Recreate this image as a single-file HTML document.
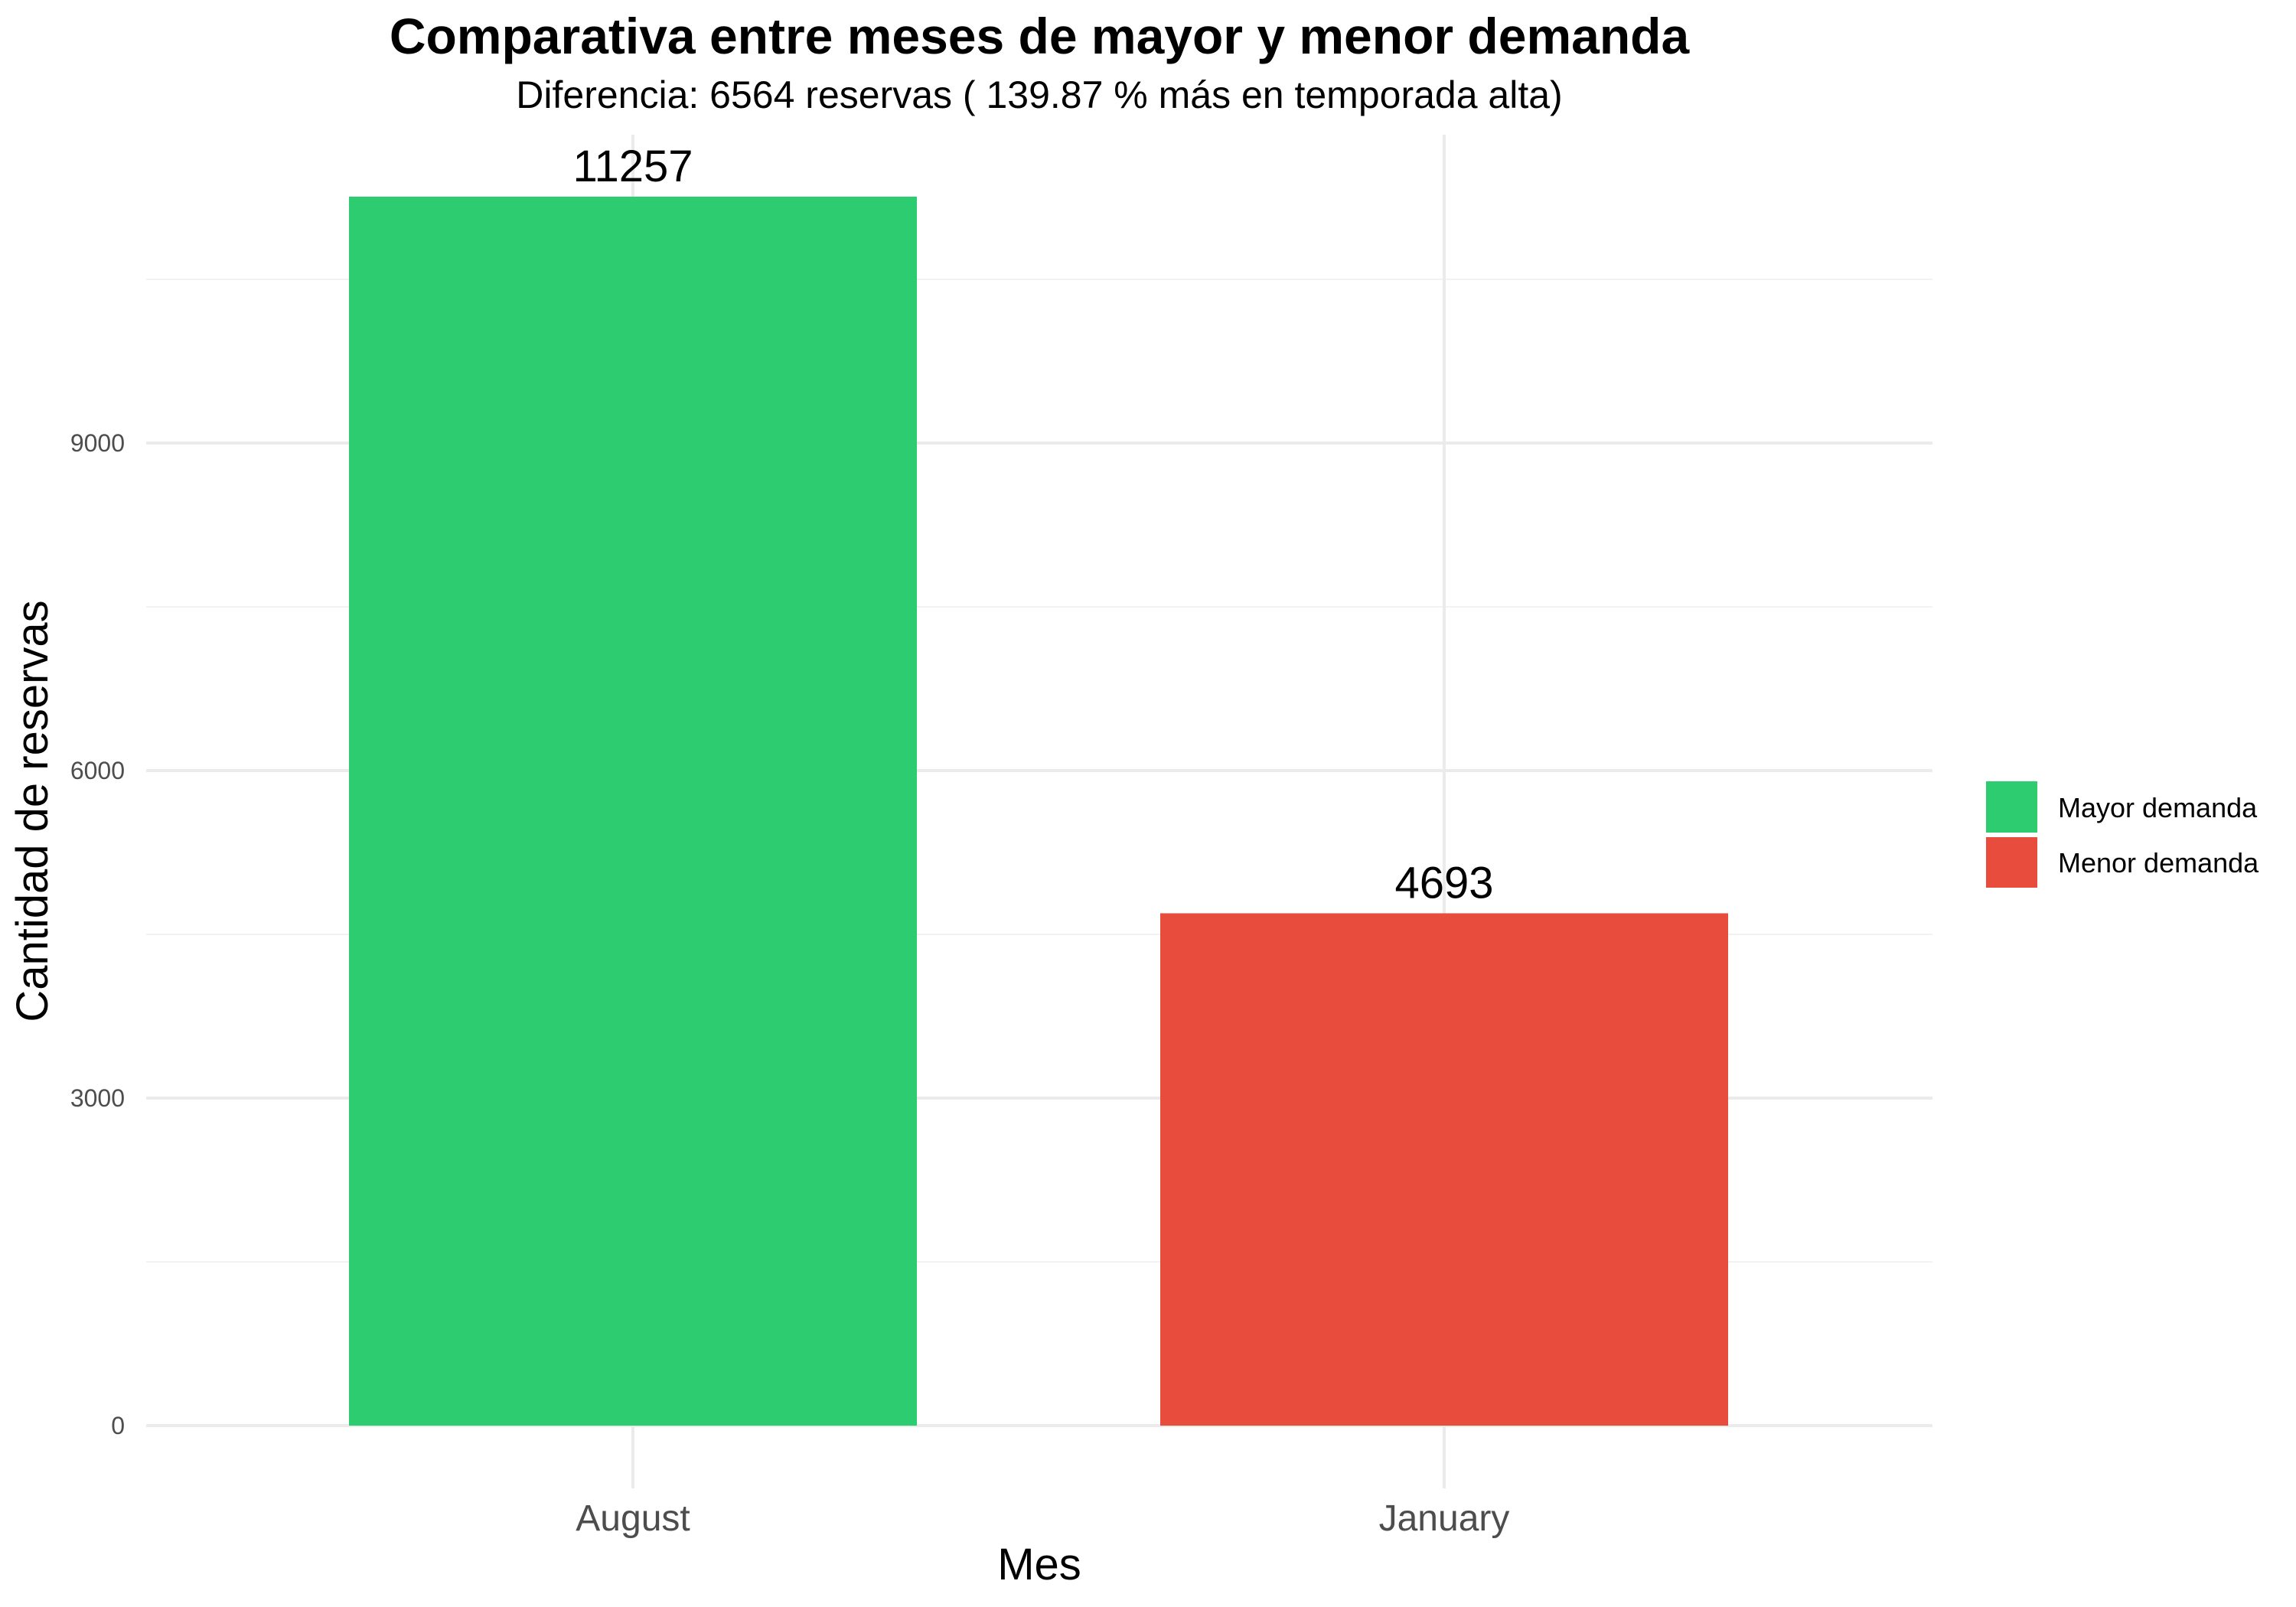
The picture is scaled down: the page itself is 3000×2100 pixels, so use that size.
<!DOCTYPE html>
<html><head><meta charset="utf-8"><style>
body{margin:0;background:#fff}
svg{display:block;font-family:"Liberation Sans",sans-serif}
</style></head><body>
<svg id="chart" width="3000" height="2100" xmlns="http://www.w3.org/2000/svg">
<text x="1358" y="70" font-size="66" font-weight="bold" text-anchor="middle">Comparativa entre meses de mayor y menor demanda</text>
<text x="1358" y="141" font-size="50" text-anchor="middle">Diferencia: 6564 reservas ( 139.87 % más en temporada alta)</text>
<g id="grid"></g><g id="bars"></g><g id="labels"></g>
<text x="1358" y="2064" font-size="58" text-anchor="middle">Mes</text>
<text transform="translate(62,1060) rotate(-90)" font-size="58" text-anchor="middle">Cantidad de reservas</text>
<g>
<rect x="2595" y="1021" width="67" height="67" fill="#2ecc71"/>
<text x="2689" y="1068" font-size="36">Mayor demanda</text>
<rect x="2595" y="1094" width="67" height="66" fill="#e74c3c"/>
<text x="2689" y="1140" font-size="36">Menor demanda</text>
</g>
</svg>
<script>
const categories=["August","January"];
const values=[11257,4693];
const colors=["#2ecc71","#e74c3c"];
const yTicks=[0,3000,6000,9000];
const yMinor=[1500,4500,7500,10500];
const NS="http://www.w3.org/2000/svg";
const x0=191,x1=2525,yBase=1863,yTop=176,pxPerUnit=(1863-257)/11257;
const xCenters=[827,1887],barW=742;
function y(v){return yBase-v*pxPerUnit;}
function xc(i){return xCenters[i];}
function mk(tag,attrs,parent,text){const e=document.createElementNS(NS,tag);for(const k in attrs)e.setAttribute(k,attrs[k]);if(text!==undefined)e.textContent=text;document.getElementById(parent).appendChild(e);return e;}
yMinor.forEach(v=>{const l=mk('line',{x1:x0,x2:x1,y1:y(v),y2:y(v),stroke:'#f2f2f2','stroke-width':2},'grid');

});
yTicks.forEach(v=>{const l=mk('line',{x1:x0,x2:x1,y1:y(v),y2:y(v),stroke:'#ebebeb','stroke-width':4},'grid');


const t=mk('text',{x:163,y:y(v)+11,'font-size':32,fill:'#4d4d4d','text-anchor':'end'},'labels',String(v));

});
categories.forEach((c,i)=>{const l=mk('line',{x1:xc(i),x2:xc(i),y1:yTop,y2:1945,stroke:'#ebebeb','stroke-width':4},'grid');


const r=mk('rect',{x:xc(i)-barW/2,y:y(values[i]),width:barW,height:yBase-y(values[i]),fill:colors[i]},'bars');


const vt=mk('text',{x:xc(i),y:y(values[i])-20,'font-size':58,'text-anchor':'middle'},'labels',String(values[i]));


const xt=mk('text',{x:xc(i),y:2000,'font-size':48,fill:'#4d4d4d','text-anchor':'middle'},'labels',c);

});
</script>
</body></html>
